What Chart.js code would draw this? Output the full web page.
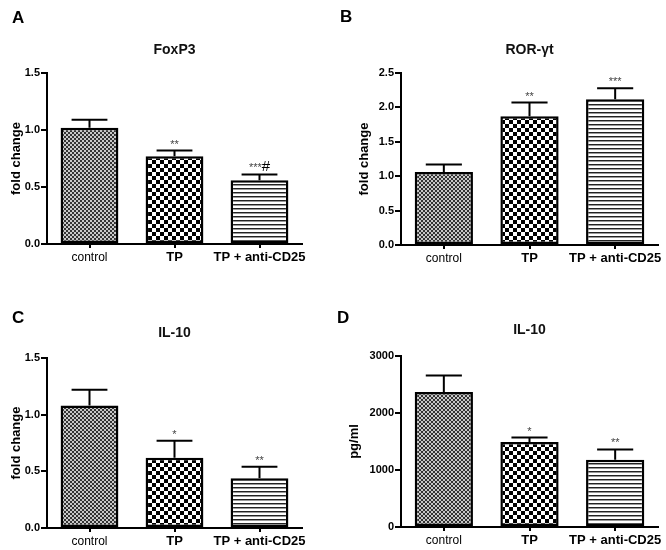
<!doctype html>
<html>
<head>
<meta charset="utf-8">
<script src="https://cdn.jsdelivr.net/npm/chart.js"></script>
<style>
body{margin:0;background:#fff;font-family:"Liberation Sans",Arial,sans-serif}
#wrap{position:relative;width:666px;height:550px}
.panel{position:absolute;width:333px;height:275px}
.letter{position:absolute;font-weight:bold;font-size:17px;color:#000}
</style>
</head>
<body>
<div id="wrap">
  <div class="panel" style="left:0;top:0"><canvas id="cA" width="333" height="275"></canvas></div>
  <div class="panel" style="left:333px;top:0"><canvas id="cB" width="333" height="275"></canvas></div>
  <div class="panel" style="left:0;top:275px"><canvas id="cC" width="333" height="275"></canvas></div>
  <div class="panel" style="left:333px;top:275px"><canvas id="cD" width="333" height="275"></canvas></div>
  <div class="letter" style="left:12px;top:8px">A</div>
  <div class="letter" style="left:340px;top:7px">B</div>
  <div class="letter" style="left:12px;top:308px">C</div>
  <div class="letter" style="left:337px;top:308px">D</div>
</div>
<script>
// data
const categories = ['control', 'TP', 'TP + anti-CD25'];

const foxp3Mean = [1.02, 0.77, 0.56];
const foxp3Sem = [0.07, 0.05, 0.05];
const foxp3Sig = ['', '**', '***#'];

const rorMean = [1.06, 1.87, 2.12];
const rorSem = [0.11, 0.20, 0.16];
const rorSig = ['', '**', '***'];

const il10FoldMean = [1.08, 0.62, 0.44];
const il10FoldSem = [0.14, 0.15, 0.10];
const il10FoldSig = ['', '*', '**'];

const il10PgMean = [2370, 1490, 1180];
const il10PgSem = [290, 80, 180];
const il10PgSig = ['', '*', '**'];

const FONT = '"Liberation Sans", Arial, sans-serif';

// fill patterns
function makePattern(ctx, kind) {
  const c = document.createElement('canvas');
  const g = c.getContext('2d');
  if (kind === 'fine') {
    c.width = 4; c.height = 4;
    g.fillStyle = '#c8c8c8'; g.fillRect(0, 0, 4, 4);
    g.fillStyle = '#333'; g.fillRect(0, 0, 2, 2); g.fillRect(2, 2, 2, 2);
  } else if (kind === 'checker') {
    c.width = 8; c.height = 8;
    g.fillStyle = '#fff'; g.fillRect(0, 0, 8, 8);
    g.fillStyle = '#000'; g.fillRect(0, 0, 4, 4); g.fillRect(4, 4, 4, 4);
  } else {
    c.width = 4; c.height = 4;
    g.fillStyle = '#fff'; g.fillRect(0, 0, 4, 4);
    g.fillStyle = '#222'; g.fillRect(0, 0, 4, 1);
    g.fillStyle = '#999'; g.fillRect(0, 1, 4, 1);
  }
  return ctx.createPattern(c, 'repeat');
}

// error bars + significance marks
const errorBars = {
  id: 'errorBars',
  afterDatasetsDraw(chart) {
    const ctx = chart.ctx;
    const ds = chart.data.datasets[0];
    const meta = chart.getDatasetMeta(0);
    const y = chart.scales.y;
    ctx.save();
    meta.data.forEach((bar, i) => {
      const top = y.getPixelForValue(ds.data[i] + ds.sem[i]);
      const half = bar.width * 0.31;
      ctx.strokeStyle = '#000';
      ctx.lineWidth = 2;
      ctx.beginPath();
      ctx.moveTo(bar.x, bar.y);
      ctx.lineTo(bar.x, top);
      ctx.moveTo(bar.x - half, top);
      ctx.lineTo(bar.x + half, top);
      ctx.stroke();
      const sig = ds.sig[i];
      if (!sig) return;
      const stars = sig.replace('#', '');
      const hash = sig.includes('#');
      ctx.font = '11px ' + FONT;
      const sw = ctx.measureText(stars).width;
      ctx.font = '15px ' + FONT;
      const hw = hash ? ctx.measureText('#').width : 0;
      const x0 = bar.x - (sw + hw) / 2;
      ctx.textBaseline = 'alphabetic';
      ctx.textAlign = 'left';
      ctx.fillStyle = '#444';
      ctx.font = '11px ' + FONT;
      ctx.fillText(stars, x0, top - 3);
      if (hash) {
        ctx.fillStyle = '#000';
        ctx.font = '15px ' + FONT;
        ctx.fillText('#', x0 + sw, top - 3);
      }
    });
    ctx.restore();
  }
};

function makeChart(id, opts) {
  const canvas = document.getElementById(id);
  const ctx = canvas.getContext('2d');
  const fills = [makePattern(ctx, 'fine'), makePattern(ctx, 'checker'), makePattern(ctx, 'lines')];
  return new Chart(ctx, {
    type: 'bar',
    data: {
      labels: categories,
      datasets: [{
        data: opts.mean,
        sem: opts.sem,
        sig: opts.sig,
        backgroundColor: fills,
        borderColor: '#000',
        borderWidth: 2.5,
        borderSkipped: false,
        barPercentage: 0.68,
        categoryPercentage: 1
      }]
    },
    plugins: [errorBars],
    options: {
      responsive: false,
      animation: false,
      layout: { padding: { left: 0, right: opts.right, top: 0, bottom: 0 } },
      plugins: {
        legend: { display: false },
        tooltip: { enabled: false },
        title: {
          display: true,
          text: opts.title,
          fullSize: false,
          color: '#111',
          font: { family: FONT, size: 14, weight: 'bold' },
          padding: { top: opts.titleY - 8.4, bottom: opts.top - opts.titleY - 8.4 }
        }
      },
      scales: {
        x: {
          offset: true,
          afterFit: s => { s.height = opts.xHeight; },
          grid: { display: true, offset: false, drawOnChartArea: false, drawTicks: true, tickLength: 4, color: '#000', lineWidth: 2 },
          border: { display: true, color: '#000', width: 2 },
          ticks: {
            color: '#000',
            maxRotation: 0,
            autoSkip: false,
            padding: 2,
            font: c => ({ family: FONT, size: c.index === 0 ? 12 : 13, weight: c.index === 0 ? 'normal' : 'bold' })
          }
        },
        y: {
          min: 0,
          max: opts.max,
          afterFit: s => { s.width = opts.axisX; },
          grid: { display: true, drawOnChartArea: false, drawTicks: true, tickLength: 6, color: '#000', lineWidth: 2 },
          border: { display: true, color: '#000', width: 2 },
          ticks: {
            stepSize: opts.step,
            color: '#000',
            padding: 1,
            font: { family: FONT, size: 11, weight: 'bold' },
            callback: v => opts.decimals ? Number(v).toFixed(1) : String(v)
          },
          title: {
            display: true,
            text: opts.yTitle,
            color: '#000',
            font: { family: FONT, size: 13, weight: 'bold' },
            padding: { top: opts.yTitleX - 7.8, bottom: 0 }
          }
        }
      }
    }
  });
}

makeChart('cA', { mean: foxp3Mean, sem: foxp3Sem, sig: foxp3Sig, title: 'FoxP3', yTitle: 'fold change',
  max: 1.5, step: 0.5, decimals: true, axisX: 47, right: 31, top: 73, titleY: 50, xHeight: 31, yTitleX: 16 });
makeChart('cB', { mean: rorMean, sem: rorSem, sig: rorSig, title: 'ROR-γt', yTitle: 'fold change',
  max: 2.5, step: 0.5, decimals: true, axisX: 68, right: 8, top: 73, titleY: 50, xHeight: 30, yTitleX: 31 });
makeChart('cC', { mean: il10FoldMean, sem: il10FoldSem, sig: il10FoldSig, title: 'IL-10', yTitle: 'fold change',
  max: 1.5, step: 0.5, decimals: true, axisX: 47, right: 31, top: 83, titleY: 58, xHeight: 22, yTitleX: 16 });
makeChart('cD', { mean: il10PgMean, sem: il10PgSem, sig: il10PgSig, title: 'IL-10', yTitle: 'pg/ml',
  max: 3000, step: 1000, decimals: false, axisX: 68, right: 8, top: 81, titleY: 55, xHeight: 23, yTitleX: 21 });
</script>
</body>
</html>
